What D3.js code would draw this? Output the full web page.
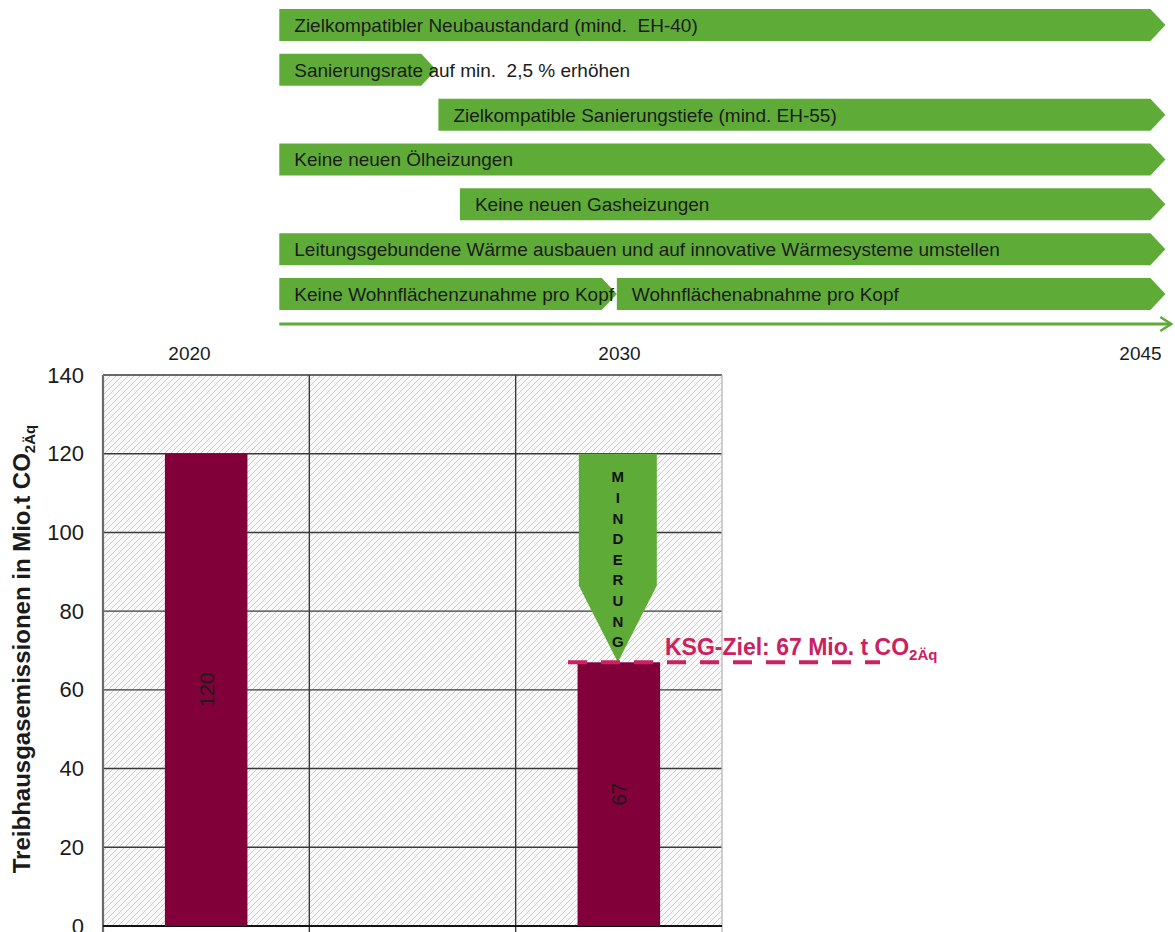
<!DOCTYPE html>
<html><head><meta charset="utf-8">
<script src="https://cdn.jsdelivr.net/npm/d3@7"></script>
<style>body{margin:0;background:#fff;} svg{display:block;font-family:"Liberation Sans",Arial,sans-serif;}</style>
</head><body><svg id="c" width="1175" height="932"></svg>
<script>
// ---------- data ----------
const categories = ["2020", "2025", "2030"];
const emissions = [120, null, 67];
const yTicks = [0, 20, 40, 60, 80, 100, 120, 140];
const targetValue = 67;
const targetText = "KSG-Ziel: 67 Mio. t CO";
const targetSub = "2Äq";
const reductionCategory = "2030";
const reductionFrom = 120;
const reductionShaftEnd = 86.5;
const reductionWord = "MINDERUNG";
const yTitle = "Treibhausgasemissionen in Mio.t CO";
const yTitleSub = "2Äq";

const timelineYears = [2020, 2030, 2045];
const timelineStart = 2022.1;
const timelineEnd = 2045.9;
const measureLabels = [
  "Zielkompatibler Neubaustandard (mind.  EH-40)",
  "Sanierungsrate auf min.  2,5 % erhöhen",
  "Zielkompatible Sanierungstiefe (mind. EH-55)",
  "Keine neuen Ölheizungen",
  "Keine neuen Gasheizungen",
  "Leitungsgebundene Wärme ausbauen und auf innovative Wärmesysteme umstellen",
  "Keine Wohnflächenzunahme pro Kopf",
  "Wohnflächenabnahme pro Kopf"
];
const measureRows = [0, 1, 2, 3, 4, 5, 6, 6];
const measureStarts = [2022.1, 2022.1, 2025.8, 2022.1, 2026.3, 2022.1, 2022.1, 2029.95];
const measureEnds = [2045.3, 2025.4, 2045.3, 2045.3, 2045.3, 2045.3, 2029.6, 2045.3];

// ---------- setup ----------
const svg = d3.select("#c");
const green = "#5fab37";
const bordeaux = "#82003a";
const crimson = "#cc2160";

const defs = svg.append("defs");
const pat = defs.append("pattern").attr("id", "hatch").attr("patternUnits", "userSpaceOnUse")
  .attr("width", 6).attr("height", 6);
pat.append("rect").attr("width", 6).attr("height", 6).attr("fill", "#f9f9f9");
pat.append("path").attr("d", "M-1,1 l2,-2 M0,6 l6,-6 M5,7 l2,-2")
  .attr("stroke", "#d0d0d0").attr("stroke-width", 1);

// ---------- timeline ----------
const tScale = d3.scaleLinear().domain(timelineYears).range([189, 619, 1140]);
const rowScale = d3.scaleBand().domain(d3.range(7)).range([9, 310]).paddingInner(0.286);
const tip = 15;
const rh = rowScale.bandwidth();

const measures = measureLabels.map((l, i) => ({label: l, row: measureRows[i], s: measureStarts[i], e: measureEnds[i]}));
const mg = svg.append("g");
mg.selectAll("path.arrow").data(measures).join("path").attr("class", "arrow")
  .attr("fill", green)
  .attr("d", d => {
    const x0 = tScale(d.s), x1 = tScale(d.e), y0 = rowScale(d.row);
    return `M${x0},${y0}H${x1}L${x1 + tip},${y0 + rh / 2}L${x1},${y0 + rh}H${x0}Z`;
  });
mg.selectAll("text").data(measures).join("text")
  .attr("x", d => tScale(d.s) + 15)
  .attr("y", d => rowScale(d.row) + rh / 2)
  .attr("dy", "0.36em")
  .attr("font-size", 19)
  .attr("fill", "#1b1b1b")
  .style("white-space", "pre")
  .text(d => d.label);

// timeline arrow
const ty = 324;
svg.append("line").attr("x1", tScale(timelineStart)).attr("x2", tScale(timelineEnd))
  .attr("y1", ty).attr("y2", ty).attr("stroke", green).attr("stroke-width", 3);
svg.append("path")
  .attr("d", `M${tScale(timelineEnd) - 11},${ty - 7}L${tScale(timelineEnd)},${ty}L${tScale(timelineEnd) - 11},${ty + 7}`)
  .attr("fill", "none").attr("stroke", green).attr("stroke-width", 2.5);

const tAxis = svg.append("g").attr("transform", "translate(0,337)")
  .call(d3.axisBottom(tScale).tickValues(timelineYears).tickFormat(d3.format("d")).tickSize(0).tickPadding(10));
tAxis.select(".domain").remove();
tAxis.selectAll("text").attr("font-size", 19).attr("fill", "#1b1b1b").attr("font-family", null);

// ---------- bar chart ----------
const left = 103, right = 722;
const yScale = d3.scaleLinear().domain([0, 140]).range([926, 375]);
const xBand = d3.scaleBand().domain(categories).range([left, right]).padding(0);
const barW = xBand.bandwidth() * 0.4;

svg.append("rect").attr("x", left).attr("y", yScale(140)).attr("width", right - left)
  .attr("height", yScale(0) - yScale(140)).attr("fill", "url(#hatch)");

// grid
svg.append("g").selectAll("line").data(yTicks.filter(v => v > 0)).join("line")
  .attr("x1", left).attr("x2", right).attr("y1", d => yScale(d)).attr("y2", d => yScale(d))
  .attr("stroke", "#3a3a3a").attr("stroke-width", 1.4);
const bounds = categories.map(c => xBand(c)).concat([right]);
svg.append("g").selectAll("line").data(bounds).join("line")
  .attr("x1", d => d).attr("x2", d => d).attr("y1", yScale(140)).attr("y2", yScale(0) + 8)
  .attr("stroke", (d, i) => i === 0 ? "#6a6a6a" : (i === bounds.length - 1 ? "#bdbdbd" : "#3a3a3a"))
  .attr("stroke-width", (d, i) => i === 0 ? 2.2 : 1.4);
svg.append("line").attr("x1", left).attr("x2", right).attr("y1", yScale(0)).attr("y2", yScale(0))
  .attr("stroke", "#111").attr("stroke-width", 2.2);

// y axis labels
const yAxis = svg.append("g").attr("transform", `translate(${left},0)`)
  .call(d3.axisLeft(yScale).tickValues(yTicks).tickSize(0).tickPadding(19));
yAxis.select(".domain").remove();
yAxis.selectAll("text").attr("font-size", 22).attr("fill", "#1b1b1b").attr("font-family", null);

// y title
const yt = svg.append("text").attr("transform", `translate(30,${(875 + 423) / 2}) rotate(-90)`)
  .attr("text-anchor", "middle").attr("font-weight", "bold").attr("font-size", 24).attr("fill", "#1b1b1b");
yt.append("tspan").text(yTitle);
yt.append("tspan").attr("font-size", 15).attr("dy", 5).text(yTitleSub);

// bars
const bars = categories.map((c, i) => ({c, v: emissions[i]})).filter(d => d.v != null);
svg.append("g").selectAll("rect").data(bars).join("rect")
  .attr("x", d => xBand(d.c) + xBand.bandwidth() / 2 - barW / 2)
  .attr("y", d => yScale(d.v)).attr("width", barW)
  .attr("height", d => yScale(0) - yScale(d.v)).attr("fill", bordeaux);
svg.append("g").selectAll("text").data(bars).join("text")
  .attr("transform", d => `translate(${xBand(d.c) + xBand.bandwidth() / 2},${(yScale(d.v) + yScale(0)) / 2}) rotate(-90)`)
  .attr("text-anchor", "middle").attr("dy", "0.35em").attr("font-size", 21).attr("fill", "#1b1b1b")
  .text(d => d.v);

// reduction arrow
const rc = xBand(reductionCategory) + xBand.bandwidth() / 2 - 1;
const hw = 39;
svg.append("path").attr("fill", green)
  .attr("d", `M${rc - hw},${yScale(reductionFrom)}H${rc + hw}V${yScale(reductionShaftEnd)}L${rc},${yScale(targetValue)}L${rc - hw},${yScale(reductionShaftEnd)}Z`);
const letters = reductionWord.split("");
svg.append("g").selectAll("text").data(letters).join("text")
  .attr("x", rc).attr("y", (d, i) => 477 + i * 20.6)
  .attr("dy", "0.36em").attr("text-anchor", "middle").attr("font-weight", "bold")
  .attr("font-size", 15).attr("fill", "#111").text(d => d);

// target line
svg.append("line").attr("x1", 568).attr("x2", 880)
  .attr("y1", yScale(targetValue)).attr("y2", yScale(targetValue))
  .attr("stroke", crimson).attr("stroke-width", 4).attr("stroke-dasharray", "19,14");
const tt = svg.append("text").attr("x", 665).attr("y", yScale(targetValue) - 7)
  .attr("font-weight", "bold").attr("font-size", 23).attr("fill", crimson);
tt.append("tspan").text(targetText);
tt.append("tspan").attr("font-size", 15).attr("dy", 5).text(targetSub);
</script></body></html>
